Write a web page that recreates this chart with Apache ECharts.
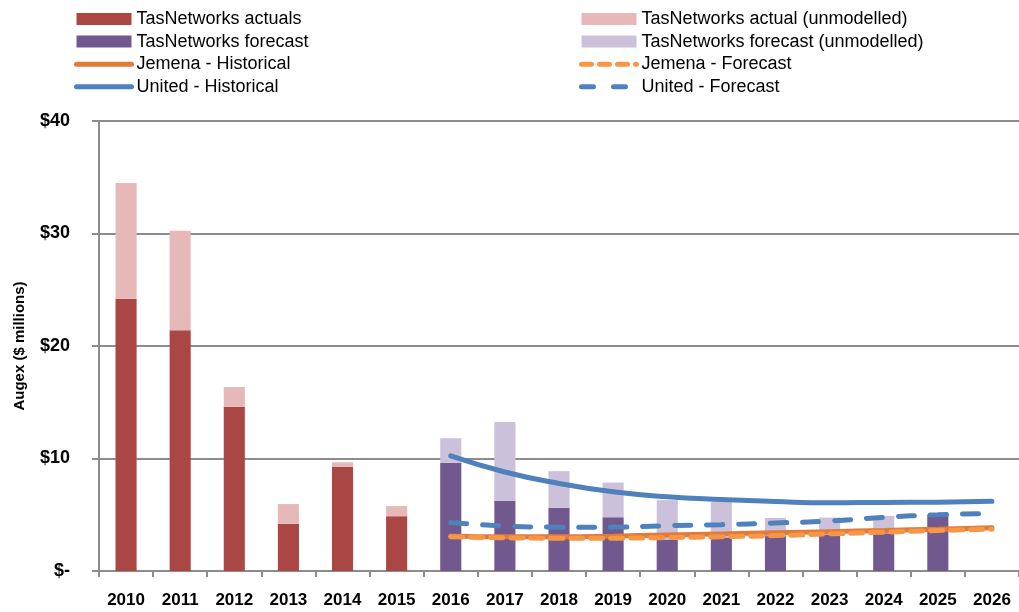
<!DOCTYPE html>
<html>
<head>
<meta charset="utf-8">
<script src="https://cdn.jsdelivr.net/npm/echarts@6/dist/echarts.min.js"></script>
<style>html,body{margin:0;padding:0;background:#fff}#c{width:1019px;height:612px}</style>
</head>
<body>
<div id="c"></div>
<script>
var years = ['2010','2011','2012','2013','2014','2015','2016','2017','2018','2019','2020','2021','2022','2023','2024','2025','2026'];
var actuals = [24.2, 21.4, 14.6, 4.2, 9.26, 4.87, null, null, null, null, null, null, null, null, null, null, null];
var actualUnmodelled = [10.3, 8.85, 1.75, 1.75, 0.4, 0.9, null, null, null, null, null, null, null, null, null, null, null];
var forecast = [null, null, null, null, null, null, 9.62, 6.23, 5.62, 4.78, 2.8, 2.98, 3.1, 3.25, 3.35, 5.02, null];
var forecastUnmodelled = [null, null, null, null, null, null, 2.18, 7.02, 3.26, 3.08, 3.5, 3.17, 1.62, 1.5, 1.55, 0, null];
var jemenaHist = [null, null, null, null, null, null, 3.1, 3.05, 3.05, 3.1, 3.2, 3.3, 3.4, 3.5, 3.6, 3.72, 3.85];
var jemenaFcst = [null, null, null, null, null, null, 3.05, 2.95, 2.92, 2.92, 2.97, 3.05, 3.15, 3.3, 3.45, 3.6, 3.72];
var unitedHist = [null, null, null, null, null, null, 10.23, 8.8, 7.78, 7.04, 6.6, 6.35, 6.17, 6.06, 6.1, 6.12, 6.2];
var unitedFcst = [null, null, null, null, null, null, 4.3, 4.0, 3.9, 3.9, 4.03, 4.12, 4.27, 4.45, 4.77, 5.0, 5.1];
var yTicks = [0, 10, 20, 30, 40];

var FONT = 'Liberation Sans';
var chart = echarts.init(document.getElementById('c'), null, {renderer: 'canvas'});
function barS(name, data, color) {
  return {name: name, type: 'bar', stack: 'a', data: data, barWidth: '39%',
    itemStyle: {color: color}, emphasis: {disabled: true}};
}
function lineS(name, data, color, type, width) {
  return {name: name, type: 'line', data: data, smooth: true, symbol: 'none',
    lineStyle: {color: color, width: width, type: type, cap: 'round'}, itemStyle: {color: color},
    connectNulls: false, emphasis: {disabled: true}};
}
var hideSym = {opacity: 0, borderWidth: 0, color: 'rgba(0,0,0,0)'};
function lineItem(name, color, type) {
  return {name: name, itemStyle: hideSym, lineStyle: {width: 5, color: color, type: type, cap: 'round'}};
}
var legendText = {fontFamily: FONT, fontSize: 18, color: '#000', lineHeight: 18};
chart.setOption({
  animation: false,
  grid: {left: 99, top: 121, bottom: 41, right: -2},
  legend: [
    {orient: 'vertical', left: 69, top: 5, itemWidth: 55, itemHeight: 12, itemGap: 4.6,
     data: [{name: 'TasNetworks actuals', icon: 'rect'}, {name: 'TasNetworks forecast', icon: 'rect'},
            lineItem('Jemena - Historical', '#E07B39', 'solid'), lineItem('United - Historical', '#4F81BD', 'solid')],
     textStyle: legendText, selectedMode: false},
    {orient: 'vertical', left: 574, top: 5, itemWidth: 55, itemHeight: 12, itemGap: 4.6,
     data: [{name: 'TasNetworks actual (unmodelled)', icon: 'rect'}, {name: 'TasNetworks forecast (unmodelled)', icon: 'rect'},
            lineItem('Jemena - Forecast', '#F79646', [10, 8]), lineItem('United - Forecast', '#4F81BD', [12, 20])],
     textStyle: legendText, selectedMode: false}
  ],
  xAxis: {
    type: 'category', data: years,
    axisLine: {lineStyle: {color: '#8c8c8c', width: 2}},
    axisTick: {show: true, length: 6, lineStyle: {color: '#8c8c8c', width: 2}},
    axisLabel: {fontFamily: FONT, fontSize: 17, fontWeight: 'bold', color: '#000', margin: 21, interval: 0}
  },
  yAxis: {
    type: 'value', min: 0, max: 40, interval: 10,
    name: 'Augex ($ millions)', nameLocation: 'middle', nameGap: 72, nameRotate: 90,
    nameTextStyle: {fontFamily: FONT, fontSize: 15, fontWeight: 'bold', color: '#000'},
    axisLine: {show: true, lineStyle: {color: '#8c8c8c', width: 2}},
    axisTick: {show: true, length: 7, lineStyle: {color: '#8c8c8c', width: 2}},
    splitLine: {lineStyle: {color: '#8c8c8c', width: 2}},
    axisLabel: {fontFamily: FONT, fontSize: 18, fontWeight: 'bold', color: '#000', margin: 29,
      formatter: function (v) { return yTicks.indexOf(v) >= 0 ? (v === 0 ? '$-' : '$' + v) : ''; }}
  },
  series: [
    barS('TasNetworks actuals', actuals, '#AA4643'),
    barS('TasNetworks actual (unmodelled)', actualUnmodelled, '#E6B9B8'),
    barS('TasNetworks forecast', forecast, '#71588F'),
    barS('TasNetworks forecast (unmodelled)', forecastUnmodelled, '#CCC1DA'),
    lineS('Jemena - Historical', jemenaHist, '#E07B39', 'solid', 5),
    lineS('Jemena - Forecast', jemenaFcst, '#F79646', [12, 8], 5),
    lineS('United - Historical', unitedHist, '#4F81BD', 'solid', 5),
    lineS('United - Forecast', unitedFcst, '#4F81BD', [16, 16], 5)
  ]
});
</script>
</body>
</html>
